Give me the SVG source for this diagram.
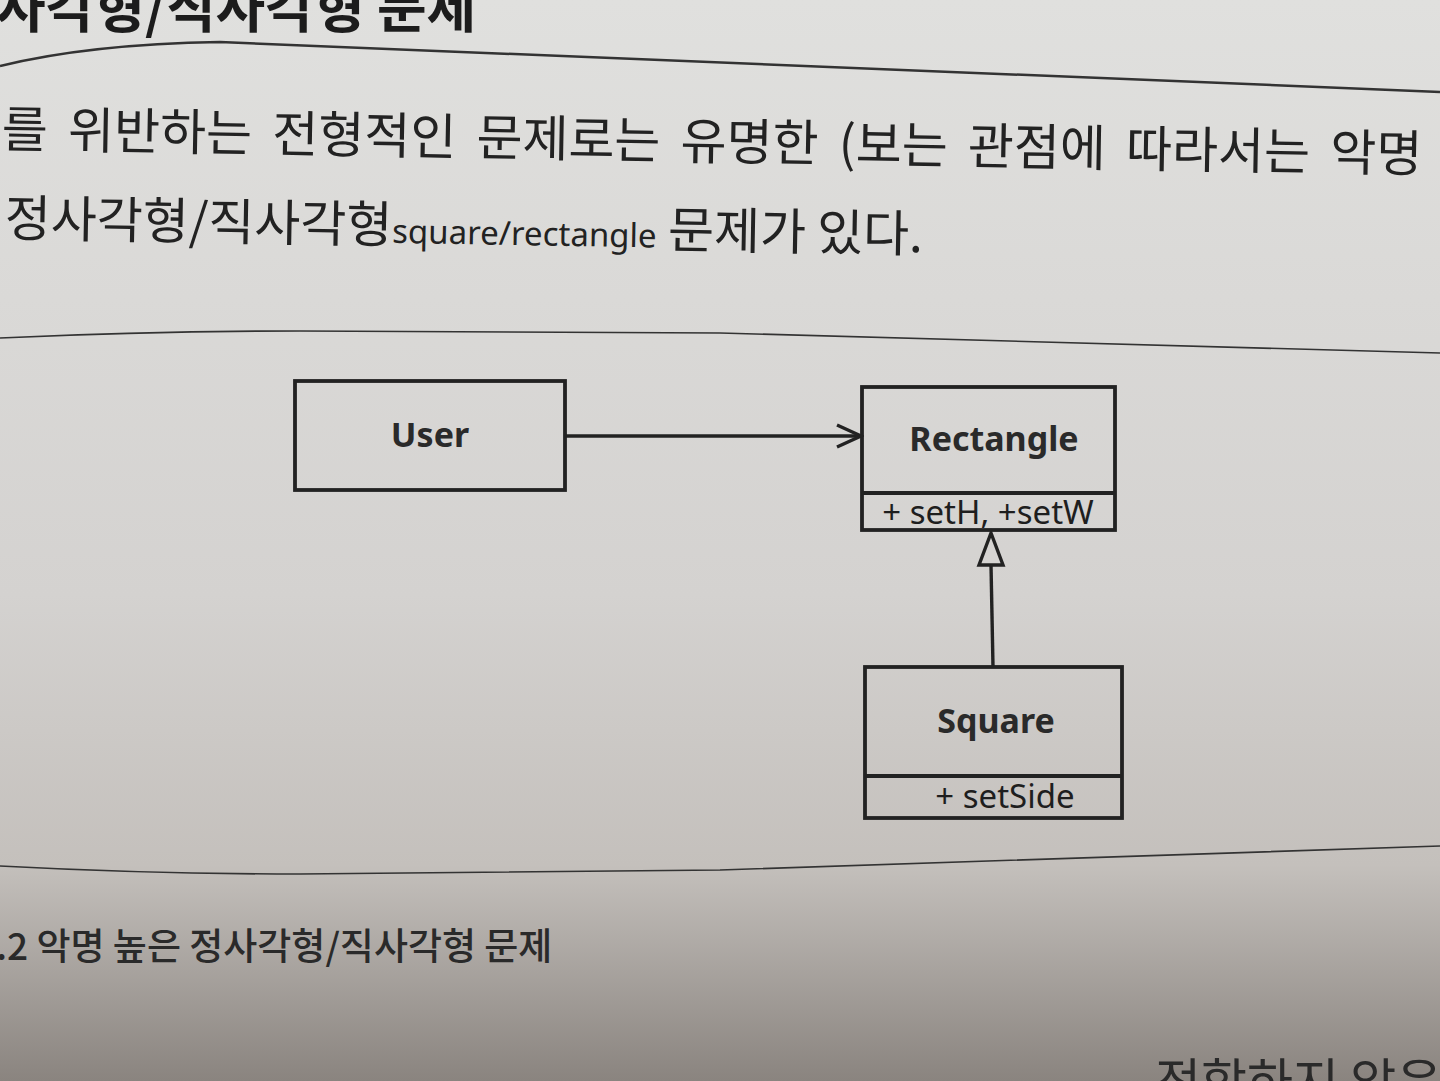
<svg xmlns="http://www.w3.org/2000/svg" width="1440" height="1081" viewBox="0 0 1440 1081">
<defs>
<linearGradient id="paper" x1="0" y1="0" x2="0" y2="1">
<stop offset="0" stop-color="#e0e0de"/>
<stop offset="0.55" stop-color="#d4d2d0"/>
<stop offset="0.8" stop-color="#c4c0bc"/>
<stop offset="1" stop-color="#8a847f"/>
</linearGradient>
<marker id="open" viewBox="0 0 30 26" refX="27" refY="13" markerWidth="30" markerHeight="26" markerUnits="userSpaceOnUse" orient="auto">
<path d="M3,2 L27,13 L3,24" fill="none" stroke="#222" stroke-width="3.4"/>
</marker>
</defs>
<style>
.box{fill:none;stroke:#222;stroke-width:3.8}
.div{stroke:#222;stroke-width:3.8}
.name{font-family:"Noto Sans","Liberation Sans",sans-serif;font-weight:bold;font-size:34px;fill:#2a2a2a;text-anchor:middle}
.mem{font-family:"Noto Sans","Liberation Sans",sans-serif;font-size:33px;fill:#1e1e1e;text-anchor:middle}
.body{font-family:"Noto Sans CJK KR","Noto Sans",sans-serif;font-size:50px;fill:#222}
.rule{fill:none;stroke:#333}
.edge{fill:none;stroke:#222;stroke-width:3.4}
</style>
<rect x="0" y="0" width="1440" height="1081" fill="url(#paper)"/>
<text x="-4" y="28" font-family="'Noto Sans CJK KR',sans-serif" font-weight="bold" font-size="54" fill="#1c1c1c">사각형/직사각형 문제</text>
<path class="rule" stroke-width="2.5" d="M0,66 Q90,44 220,42 L1440,92"/>
<g transform="rotate(1.0 0 145)">
<text class="body" x="-30" y="147" word-spacing="9">P를 위반하는 전형적인 문제로는 유명한 (보는 관점에 따라서는 악명</text>
<text class="body" x="6" y="236">정사각형/직사각형<tspan font-family="'Noto Sans',sans-serif" font-size="33">square/rectangle</tspan> 문제가 있다.</text>
</g>
<path class="rule" stroke-width="1.6" d="M0,338 Q150,331 300,331 L720,333 L1440,353"/>
<path class="rule" stroke-width="1.6" d="M0,866 Q150,874 300,874 L720,870 L1440,846"/>
<g id="connectors">
<line class="edge" x1="565" y1="436" x2="861" y2="436" marker-end="url(#open)"/>
<line class="edge" x1="993" y1="667" x2="991" y2="565"/>
<polygon points="991,533 1003,565 979,565" fill="#d6d4d2" stroke="#222" stroke-width="3.4" stroke-linejoin="miter"/>
</g>
<g id="user">
<rect class="box" x="295" y="381" width="270" height="109"/>
<text class="name" x="430" y="447">User</text>
</g>
<g id="rectangle">
<rect class="box" x="862" y="387" width="253" height="143"/>
<line class="div" x1="862" y1="493" x2="1115" y2="493"/>
<text class="name" x="994" y="451">Rectangle</text>
<text class="mem" x="988" y="524">+ setH, +setW</text>
</g>
<g id="square">
<rect class="box" x="865" y="667" width="257" height="151"/>
<line class="div" x1="865" y1="776" x2="1122" y2="776"/>
<text class="name" x="996" y="733">Square</text>
<text class="mem" x="1005" y="808">+ setSide</text>
</g>
<text x="-4" y="960" font-family="'Noto Sans CJK KR',sans-serif" font-weight="500" font-size="37" fill="#2a2a2a">.2 악명 높은 정사각형/직사각형 문제</text>
<text x="1155" y="1100" font-family="'Noto Sans CJK KR',sans-serif" font-size="50" fill="#2a2a2a">적합하지 않은</text>
</svg>
